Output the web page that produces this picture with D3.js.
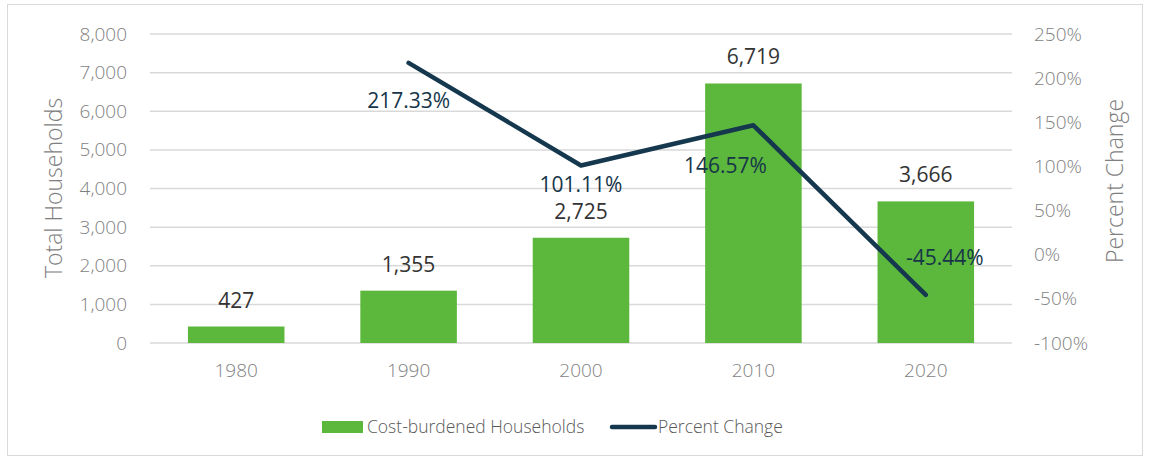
<!DOCTYPE html>
<html>
<head>
<meta charset="utf-8">
<script src="https://cdn.jsdelivr.net/npm/d3@7"></script>
<style>
  html, body { margin: 0; padding: 0; background: #fff; }
  svg { display: block; }
</style>
</head>
<body>
<svg id="chart" width="1151" height="463"></svg>
<script>
// ---- data ----
const years = ["1980", "1990", "2000", "2010", "2020"];
const households = [427, 1355, 2725, 6719, 3666];
const percentChange = [null, 217.33, 101.11, 146.57, -45.44];
const leftTicks = [0, 1000, 2000, 3000, 4000, 5000, 6000, 7000, 8000];
const rightTicks = [-100, -50, 0, 50, 100, 150, 200, 250];
const seriesNames = ["Cost-burdened Households", "Percent Change"];

// ---- layout (not data) ----
const pctLabelOffsets = [null, [0, 45], [0, 27], [-28, 48], [19, -30]];

const svg = d3.select("#chart");
const pLeft = 150, pRight = 1012, pTop = 34, pBottom = 343;
const font = "'Open Sans', 'DejaVu Sans', sans-serif";
const green = "#5cb83c", navy = "#15384e";

svg.append("rect").attr("x", 7.5).attr("y", 4.5).attr("width", 1135).attr("height", 451)
  .attr("fill", "#fff").attr("stroke", "#d9d9d9").attr("stroke-width", 1);

const x = d3.scaleBand().domain(years).range([pLeft, pRight]).paddingInner(0.44).paddingOuter(0.22);
const yL = d3.scaleLinear().domain([0, 8000]).range([pBottom, pTop]);
const yR = d3.scaleLinear().domain([-100, 250]).range([pBottom, pTop]);

// gridlines
svg.append("g").selectAll("line").data(leftTicks).join("line")
  .attr("x1", pLeft).attr("x2", pRight)
  .attr("y1", d => yL(d)).attr("y2", d => yL(d))
  .attr("stroke", "#d9d9d9").attr("stroke-width", 1.5);

// left axis
const axL = svg.append("g").attr("transform", `translate(${pLeft},0)`)
  .call(d3.axisLeft(yL).tickValues(leftTicks).tickFormat(d3.format(",")).tickSize(0).tickPadding(23));
axL.select(".domain").remove();
axL.selectAll("text").attr("font-family", font).attr("font-weight", 300)
  .attr("font-size", 19).attr("fill", "#7f7f7f");

// right axis
const axR = svg.append("g").attr("transform", `translate(${pRight},0)`)
  .call(d3.axisRight(yR).tickValues(rightTicks).tickFormat(d => d + "%").tickSize(0).tickPadding(22));
axR.select(".domain").remove();
axR.selectAll("text").attr("font-family", font).attr("font-weight", 300)
  .attr("font-size", 19).attr("fill", "#7f7f7f");

// bottom axis
const axB = svg.append("g").attr("transform", `translate(0,${pBottom})`)
  .call(d3.axisBottom(x).tickSize(0).tickPadding(21));
axB.select(".domain").remove();
axB.selectAll("text").attr("font-family", font).attr("font-weight", 300)
  .attr("font-size", 19).attr("fill", "#7f7f7f");

// axis titles
svg.append("text").attr("transform", `translate(62,188) rotate(-90)`)
  .attr("text-anchor", "middle").attr("font-family", font).attr("font-weight", 300)
  .attr("font-size", 23).attr("fill", "#7f7f7f").text("Total Households");
svg.append("text").attr("transform", `translate(1123,181) rotate(-90)`)
  .attr("text-anchor", "middle").attr("font-family", font).attr("font-weight", 300)
  .attr("font-size", 23).attr("fill", "#7f7f7f").text("Percent Change");

// bars
svg.append("g").selectAll("rect").data(years).join("rect")
  .attr("x", d => x(d)).attr("width", x.bandwidth())
  .attr("y", (d, i) => yL(households[i]))
  .attr("height", (d, i) => pBottom - yL(households[i]))
  .attr("fill", green);

// bar labels
svg.append("g").selectAll("text").data(years).join("text")
  .attr("x", d => x(d) + x.bandwidth() / 2)
  .attr("y", (d, i) => yL(households[i]) - 19)
  .attr("text-anchor", "middle").attr("font-family", font)
  .attr("font-size", 21).attr("fill", "#333")
  .text((d, i) => d3.format(",")(households[i]));

// line
const pts = years.map((d, i) => ({ year: d, v: percentChange[i], i })).filter(p => p.v !== null);
const line = d3.line().x(p => x(p.year) + x.bandwidth() / 2).y(p => yR(p.v));
svg.append("path").datum(pts).attr("d", line)
  .attr("fill", "none").attr("stroke", navy).attr("stroke-width", 4.5)
  .attr("stroke-linejoin", "round").attr("stroke-linecap", "round");

// percent labels
svg.append("g").selectAll("text").data(pts).join("text")
  .attr("x", p => x(p.year) + x.bandwidth() / 2 + pctLabelOffsets[p.i][0])
  .attr("y", p => yR(p.v) + pctLabelOffsets[p.i][1])
  .attr("text-anchor", "middle").attr("font-family", font)
  .attr("font-size", 21).attr("fill", "#163549")
  .text(p => p.v.toFixed(2) + "%");

// legend
const lg = svg.append("g");
lg.append("rect").attr("x", 322).attr("y", 421).attr("width", 41).attr("height", 12).attr("fill", green);
lg.append("text").attr("x", 367).attr("y", 433).attr("font-family", font).attr("font-weight", 300)
  .attr("font-size", 17.5).attr("fill", "#595959").text(seriesNames[0]);
lg.append("line").attr("x1", 612).attr("x2", 655).attr("y1", 427).attr("y2", 427)
  .attr("stroke", navy).attr("stroke-width", 4.5).attr("stroke-linecap", "round");
lg.append("text").attr("x", 658).attr("y", 433).attr("font-family", font).attr("font-weight", 300)
  .attr("font-size", 17.5).attr("fill", "#595959").text(seriesNames[1]);
</script>
</body>
</html>
